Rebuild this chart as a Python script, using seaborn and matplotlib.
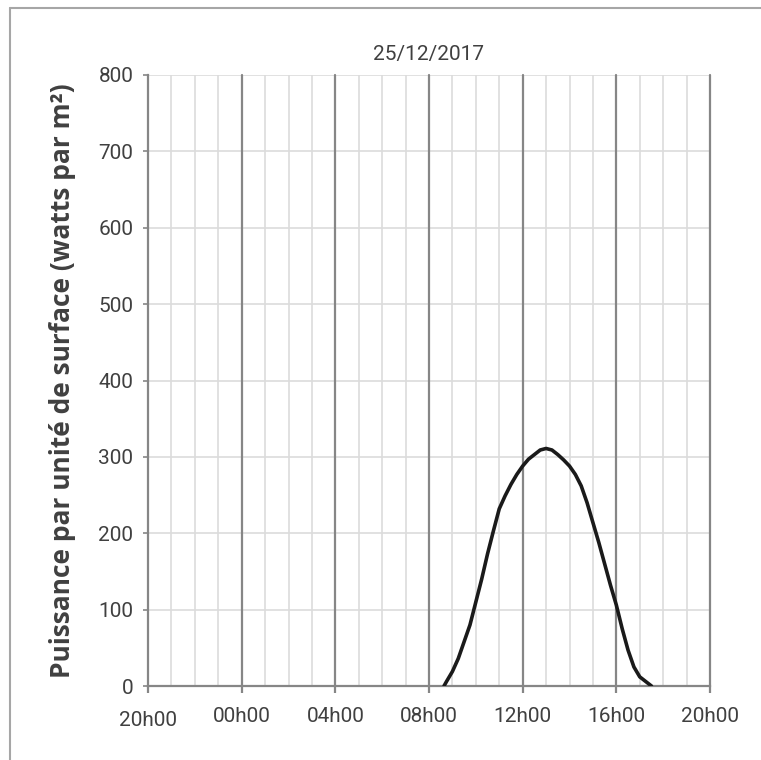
import numpy as np
import pandas as pd
import matplotlib
matplotlib.use("Agg")
import matplotlib.pyplot as plt
import matplotlib.transforms as mtransforms
from matplotlib.lines import Line2D
import seaborn as sns

# ---- data ----
title = "25/12/2017"
ylabel = "Puissance par unité de surface (watts par m²)"
# clock time (hours) of each reading on 25/12/2017
clock_hours = [8.64, 8.75, 9.0, 9.25, 9.5, 9.75, 10.0, 10.25, 10.5, 10.75,
               11.0, 11.25, 11.5, 11.75, 12.0, 12.25, 12.5, 12.75, 13.0,
               13.25, 13.5, 13.75, 14.0, 14.25, 14.5, 14.75, 15.0, 15.25,
               15.5, 15.75, 16.0, 16.25, 16.5, 16.75, 17.0, 17.25, 17.5]
power_wm2 = [0, 6, 19, 36, 58, 80, 110, 140, 173, 203,
             232, 249, 264, 277, 288, 297, 303, 309, 311,
             309, 303, 296, 288, 277, 262, 240, 214, 188,
             160, 132, 106, 75, 47, 25, 12, 6, 0]
x_tick_labels = ["20h00", "00h00", "04h00", "08h00", "12h00", "16h00", "20h00"]
y_ticks = [0, 100, 200, 300, 400, 500, 600, 700, 800]

# hours elapsed since 20h00 of the previous day
start_hour = 20
elapsed = [h + 24 - start_hour for h in clock_hours]
df = pd.DataFrame({"t": elapsed, "p": power_wm2})

sns.set_theme(style="white")
plt.rcParams["font.family"] = ["Open Sans", "DejaVu Sans"]
narrow = "Roboto"

fig = plt.figure(figsize=(7.61, 7.60), dpi=100)
ax = fig.add_axes([148 / 761, 1 - 686 / 760, (710 - 148) / 761, (686 - 75) / 760])

ax.set_xlim(0, 24)
ax.set_ylim(0, 800)

# grid
for h in range(1, 24):
    if h % 4:
        ax.axvline(h, color="#dcdcdc", lw=1.2, zorder=0)
for v in y_ticks[1:]:
    ax.axhline(v, color="#dcdcdc", lw=1.2, zorder=0)
for h in range(4, 25, 4):
    ax.axvline(h, color="#868686", lw=1.6, zorder=1, clip_on=False)

sns.lineplot(data=df, x="t", y="p", ax=ax, color="#1a1a1a", lw=2.6, zorder=3)
ax.lines[-1].set_solid_joinstyle("round")

ax.set_xticks(range(0, 25, 4))
ax.set_xticklabels(x_tick_labels, family=[narrow, "DejaVu Sans"])
ax.set_yticks(y_ticks)
ax.set_yticklabels([str(v) for v in y_ticks], family=[narrow, "DejaVu Sans"])

for side in ["top", "right"]:
    ax.spines[side].set_visible(False)
for side in ["left", "bottom"]:
    ax.spines[side].set_color("#868686")
    ax.spines[side].set_linewidth(1.6)

ax.tick_params(axis="x", direction="out", length=5, width=1.6, color="#868686",
               pad=10, labelsize=15, labelcolor="#404040", bottom=True)
ax.tick_params(axis="y", direction="out", length=3.6, width=1.2, color="#868686",
               pad=7, labelsize=15, labelcolor="#404040", left=True)

# first label sits slightly lower
lbl0 = ax.get_xticklabels()[0]
lbl0.set_transform(lbl0.get_transform() + mtransforms.ScaledTranslation(0, -3 / 72, fig.dpi_scale_trans))

ax.set_xlabel("")
ax.set_ylabel(ylabel, fontsize=19, fontweight="bold", color="#404040", labelpad=16)
ax.set_title(title, fontsize=15, color="#404040", pad=11, family=[narrow, "DejaVu Sans"])

# chart frame
fig.add_artist(Line2D([10 / 761, 10 / 761], [0, 1 - 8 / 760], transform=fig.transFigure,
                      color="#a6a6a6", lw=1.5))
fig.add_artist(Line2D([10 / 761, 1], [1 - 8 / 760, 1 - 8 / 760], transform=fig.transFigure,
                      color="#a6a6a6", lw=1.5))

fig.savefig("out.png", dpi=100)
